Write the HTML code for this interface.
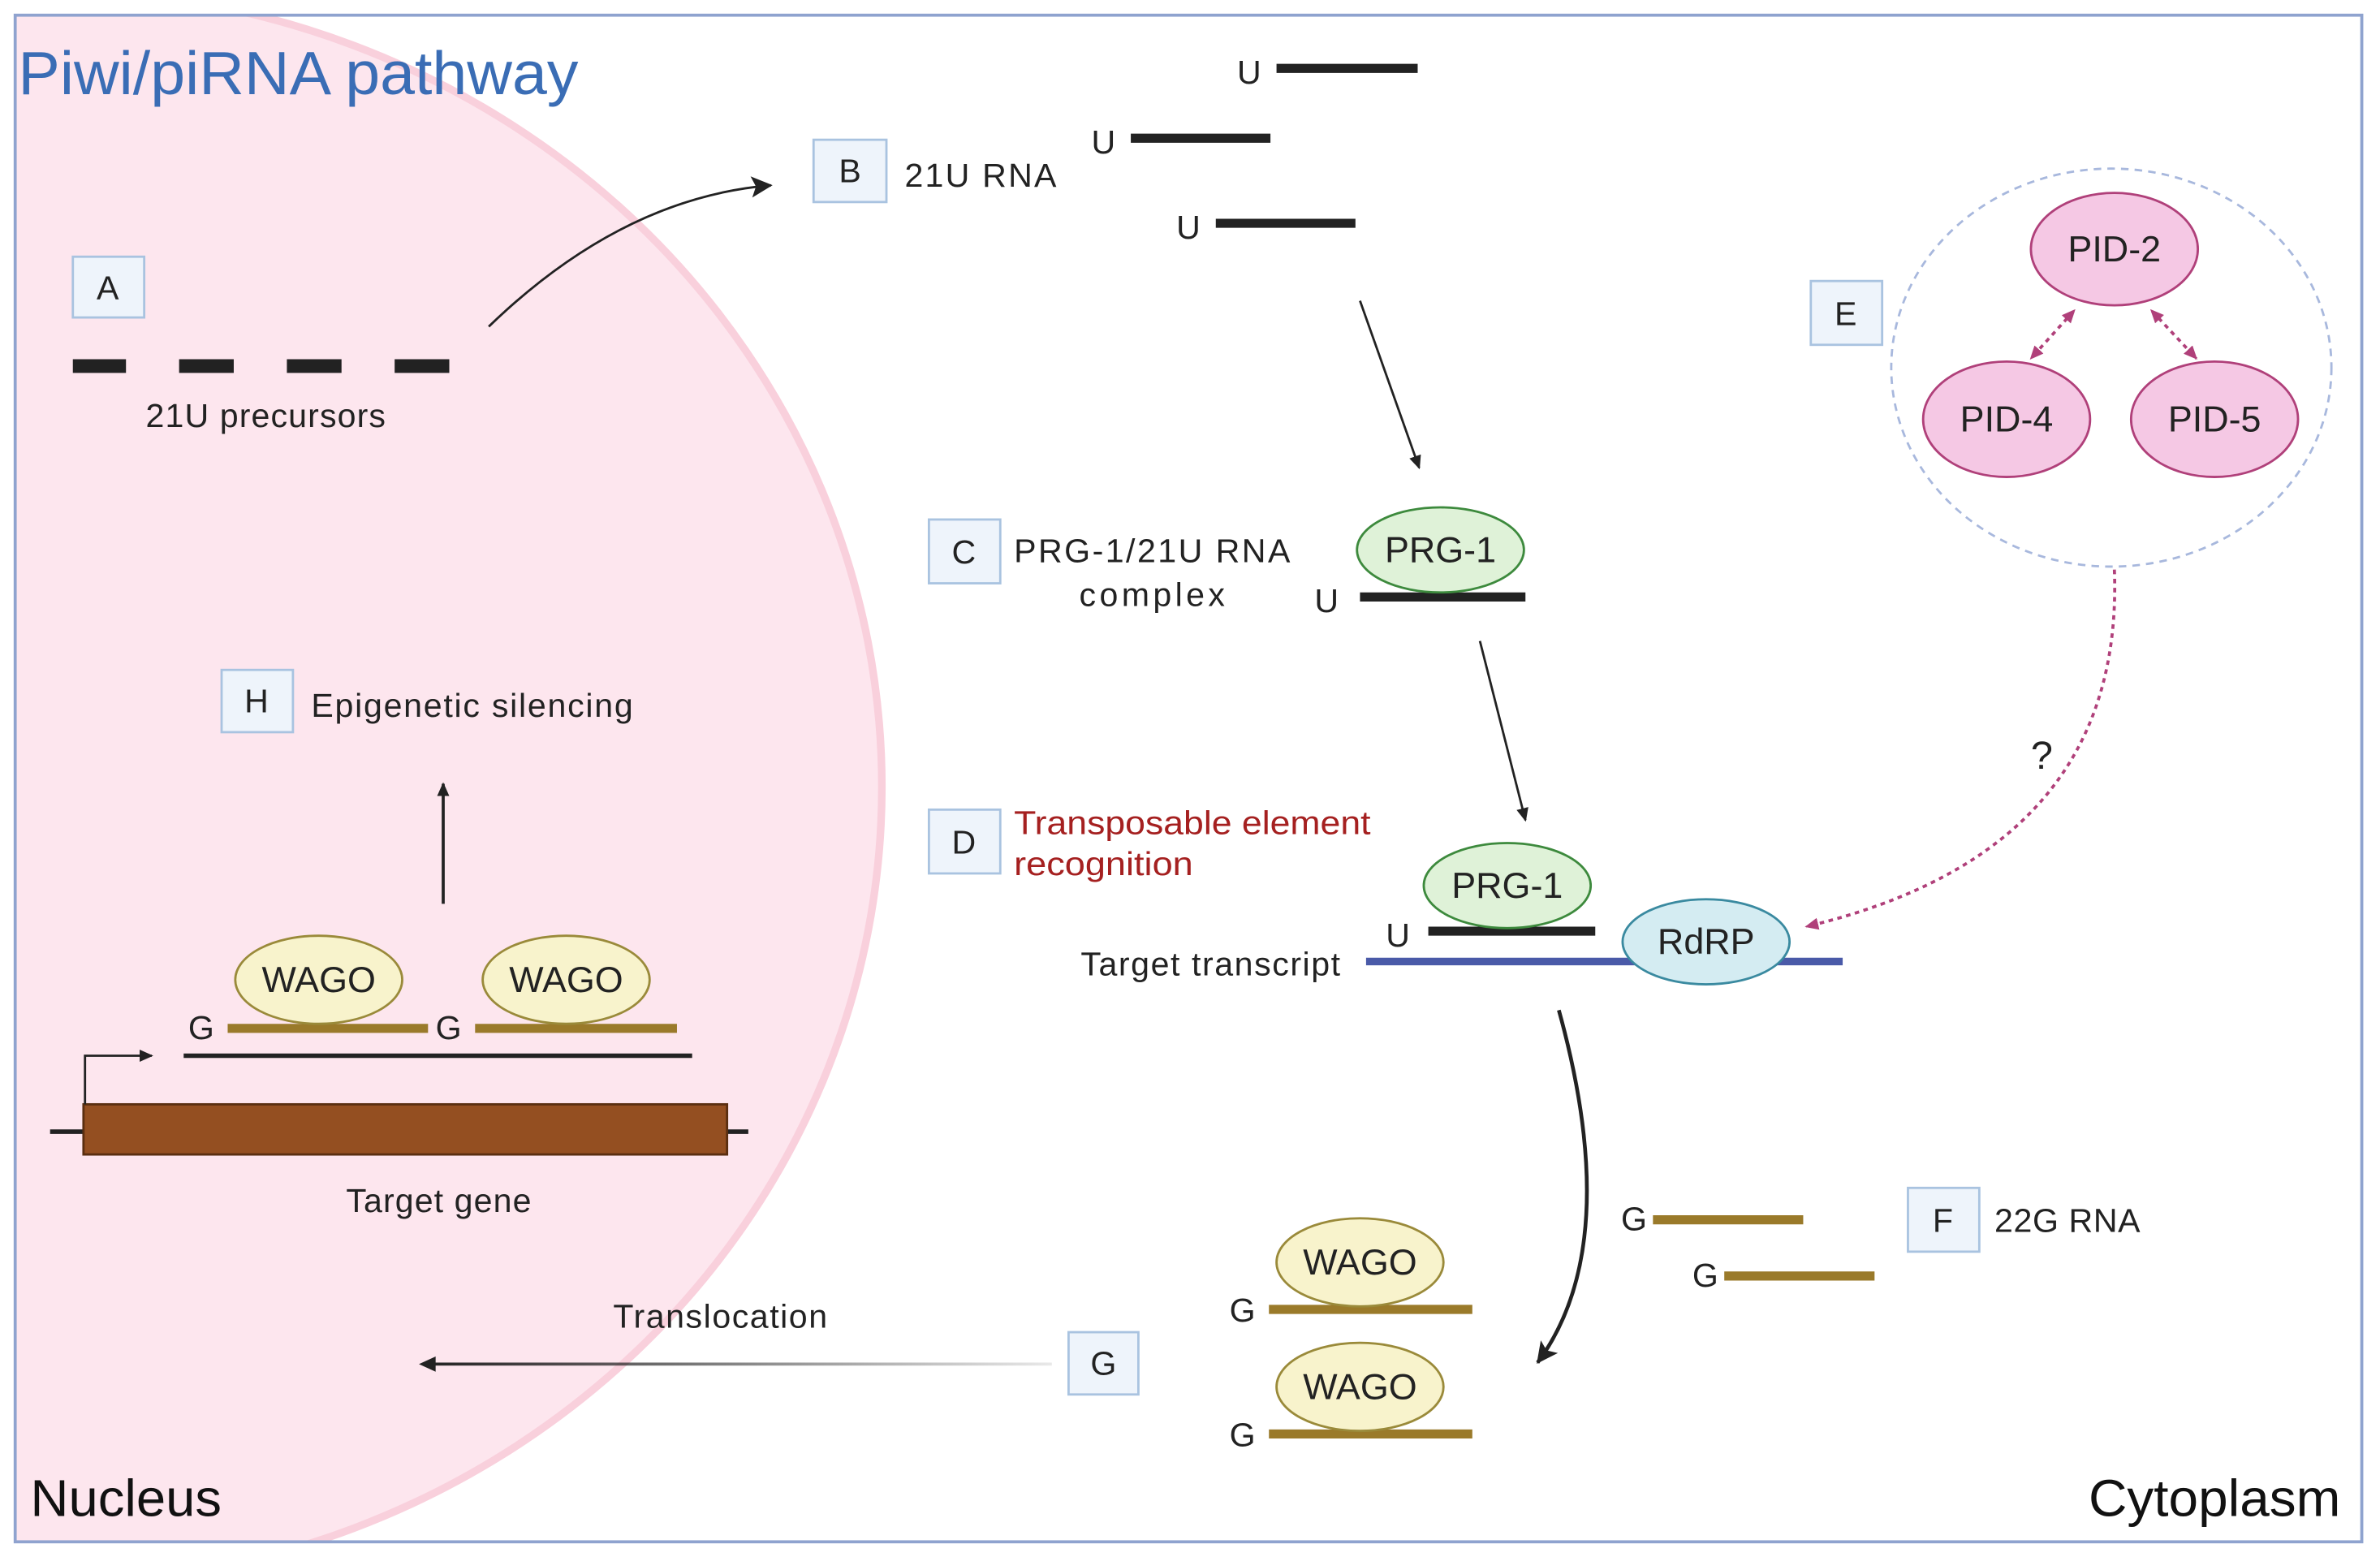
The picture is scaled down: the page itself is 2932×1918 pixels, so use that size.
<!DOCTYPE html>
<html><head><meta charset="utf-8"><style>html,body{margin:0;padding:0;background:#fff;overflow:hidden;width:2932px;height:1918px}svg{display:block}text{font-family:"Liberation Sans",sans-serif}</style></head><body>
<svg width="2932" height="1918" viewBox="0 0 1568 1025" preserveAspectRatio="none" xmlns="http://www.w3.org/2000/svg">
<defs>
<clipPath id="c"><rect x="10" y="10" width="1546" height="1005"/></clipPath>
<marker id="ah" markerWidth="10" markerHeight="10" refX="8" refY="5" orient="auto" markerUnits="userSpaceOnUse"><path d="M0,1 L9,5 L0,9 Z" fill="#222"/></marker>
<marker id="ahb" markerWidth="16" markerHeight="16" refX="13" refY="8" orient="auto" markerUnits="userSpaceOnUse"><path d="M0,1 L14,8 L0,15 L3,8 Z" fill="#222"/></marker>
<marker id="ap" markerWidth="10" markerHeight="10" refX="8" refY="5" orient="auto" markerUnits="userSpaceOnUse"><path d="M0,1 L9,5 L0,9 Z" fill="#b0407a"/></marker>
<marker id="aps" markerWidth="10" markerHeight="10" refX="2" refY="5" orient="auto" markerUnits="userSpaceOnUse"><path d="M9,1 L0,5 L9,9 Z" fill="#b0407a"/></marker>
<linearGradient id="g1" x1="0" x2="1"><stop offset="0" stop-color="#222"/><stop offset="1" stop-color="#222" stop-opacity="0.1"/></linearGradient>
</defs>
<rect x="10" y="10" width="1546" height="1005" fill="#fff"/>
<g clip-path="url(#c)"><ellipse cx="30" cy="518" rx="551" ry="525" fill="#fde6ee" stroke="#f9d0dc" stroke-width="5"/></g>
<rect x="10" y="10" width="1546" height="1005" fill="none" stroke="#8fa3cf" stroke-width="2"/>
<text x="12" y="62" font-size="40" fill="#3a6db5" textLength="369" lengthAdjust="spacingAndGlyphs">Piwi/piRNA pathway</text>
<g fill="#eef4fb" stroke="#a9c3e0" stroke-width="1.5">
<rect x="48" y="169" width="47" height="40"/><rect x="536" y="92" width="48" height="41"/><rect x="612" y="342" width="47" height="42"/><rect x="612" y="533" width="47" height="42"/><rect x="1193" y="185" width="47" height="42"/><rect x="1257" y="782" width="47" height="42"/><rect x="704" y="877" width="46" height="41"/><rect x="146" y="441" width="47" height="41"/>
</g>
<g font-size="22" fill="#222" text-anchor="middle">
<text x="71" y="197">A</text><text x="560" y="120">B</text><text x="635" y="371">C</text><text x="635" y="562">D</text><text x="1216" y="214">E</text><text x="1280" y="811">F</text><text x="727" y="905">G</text><text x="169" y="469">H</text>
</g>
<g stroke="#222" stroke-width="9"><line x1="48" y1="241" x2="83" y2="241"/><line x1="118" y1="241" x2="154" y2="241"/><line x1="189" y1="241" x2="225" y2="241"/><line x1="260" y1="241" x2="296" y2="241"/></g>
<g font-size="22" fill="#222" lengthAdjust="spacingAndGlyphs">
<text x="96" y="281" textLength="158">21U precursors</text>
<text x="596" y="123" textLength="100">21U RNA</text>
<text x="815" y="55">U</text><text x="719" y="101">U</text><text x="775" y="157">U</text>
<text x="668" y="370" textLength="182">PRG-1/21U RNA</text><text x="711" y="399" textLength="96">complex</text>
<text x="866" y="403">U</text><text x="913" y="623">U</text>
<text x="712" y="642" textLength="171">Target transcript</text>
<text x="1314" y="811" textLength="96">22G RNA</text>
<text x="1068" y="810">G</text><text x="1115" y="847">G</text>
<text x="810" y="870">G</text><text x="810" y="952">G</text>
<text x="404" y="874" textLength="141">Translocation</text>
<text x="205" y="472" textLength="212">Epigenetic silencing</text>
<text x="124" y="684">G</text><text x="287" y="684">G</text>
<text x="228" y="798" textLength="122">Target gene</text>
<text x="1338" y="506" font-size="26">?</text>
</g>
<text x="668" y="549" font-size="22" fill="#a52020" textLength="235" lengthAdjust="spacingAndGlyphs">Transposable element</text>
<text x="668" y="576" font-size="22" fill="#a52020" textLength="118" lengthAdjust="spacingAndGlyphs">recognition</text>
<path d="M322,215 Q410,130 508,122" fill="none" stroke="#222" stroke-width="1.5" marker-end="url(#ahb)"/>
<g stroke="#222" stroke-width="6"><line x1="841" y1="45" x2="934" y2="45"/><line x1="745" y1="91" x2="837" y2="91"/><line x1="801" y1="147" x2="893" y2="147"/><line x1="896" y1="393" x2="1005" y2="393"/><line x1="941" y1="613" x2="1051" y2="613"/></g>
<line x1="896" y1="198" x2="935" y2="308" stroke="#222" stroke-width="1.5" marker-end="url(#ah)"/>
<line x1="975" y1="422" x2="1005" y2="540" stroke="#222" stroke-width="1.5" marker-end="url(#ah)"/>
<ellipse cx="949" cy="362" rx="55" ry="28" fill="#dff2d8" stroke="#3d8a3d" stroke-width="1.5"/>
<text x="949" y="370" font-size="24" text-anchor="middle" fill="#222">PRG-1</text>
<line x1="900" y1="633" x2="1214" y2="633" stroke="#4a5aa8" stroke-width="5"/>
<ellipse cx="993" cy="583" rx="55" ry="28" fill="#dff2d8" stroke="#3d8a3d" stroke-width="1.5"/>
<text x="993" y="591" font-size="24" text-anchor="middle" fill="#222">PRG-1</text>
<ellipse cx="1124" cy="620" rx="55" ry="28" fill="#d4ecf2" stroke="#3a8aa0" stroke-width="1.5"/>
<text x="1124" y="628" font-size="24" text-anchor="middle" fill="#222">RdRP</text>
<ellipse cx="1391" cy="242" rx="145" ry="131" fill="none" stroke="#a8b8dd" stroke-width="1.5" stroke-dasharray="5,4"/>
<g fill="#f5c8e4" stroke="#b0407a" stroke-width="1.5"><ellipse cx="1393" cy="164" rx="55" ry="37"/><ellipse cx="1322" cy="276" rx="55" ry="38"/><ellipse cx="1459" cy="276" rx="55" ry="38"/></g>
<g font-size="24" text-anchor="middle" fill="#222"><text x="1393" y="172">PID-2</text><text x="1322" y="284">PID-4</text><text x="1459" y="284">PID-5</text></g>
<g stroke="#b0407a" stroke-width="2" stroke-dasharray="3,3" fill="none">
<line x1="1366" y1="205" x2="1338" y2="236" marker-end="url(#ap)" marker-start="url(#aps)"/>
<line x1="1418" y1="205" x2="1447" y2="236" marker-end="url(#ap)" marker-start="url(#aps)"/>
<path d="M1393,375 Q1400,560 1190,610" marker-end="url(#ap)"/>
</g>
<path d="M1027,665 Q1070,820 1013,897" fill="none" stroke="#222" stroke-width="2.5" marker-end="url(#ahb)"/>
<g stroke="#9a7a2a" stroke-width="6"><line x1="1089" y1="803" x2="1188" y2="803"/><line x1="1136" y1="840" x2="1235" y2="840"/><line x1="836" y1="862" x2="970" y2="862"/><line x1="836" y1="944" x2="970" y2="944"/><line x1="150" y1="677" x2="282" y2="677"/><line x1="313" y1="677" x2="446" y2="677"/></g>
<g fill="#f8f3cc" stroke="#9a8a3a" stroke-width="1.5"><ellipse cx="896" cy="831" rx="55" ry="29"/><ellipse cx="896" cy="913" rx="55" ry="29"/><ellipse cx="210" cy="645" rx="55" ry="29"/><ellipse cx="373" cy="645" rx="55" ry="29"/></g>
<g font-size="24" text-anchor="middle" fill="#222"><text x="896" y="839">WAGO</text><text x="896" y="921">WAGO</text><text x="210" y="653">WAGO</text><text x="373" y="653">WAGO</text></g>
<rect x="280" y="897" width="413" height="2" fill="url(#g1)"/>
<path d="M276,898 L287,893 L287,903 Z" fill="#222"/>
<line x1="292" y1="595" x2="292" y2="516" stroke="#222" stroke-width="2" marker-end="url(#ah)"/>
<line x1="121" y1="695" x2="456" y2="695" stroke="#222" stroke-width="3"/>
<line x1="33" y1="745" x2="493" y2="745" stroke="#222" stroke-width="3"/>
<rect x="55" y="727" width="424" height="33" fill="#944f21" stroke="#5a2e10" stroke-width="1.5"/>
<path d="M56,727 L56,695 L100,695" fill="none" stroke="#222" stroke-width="1.5" marker-end="url(#ah)"/>
<text x="20" y="998" font-size="34" fill="#111" textLength="126" lengthAdjust="spacingAndGlyphs">Nucleus</text>
<text x="1376" y="998" font-size="34" fill="#111" textLength="166" lengthAdjust="spacingAndGlyphs">Cytoplasm</text>
</svg>
</body></html>
